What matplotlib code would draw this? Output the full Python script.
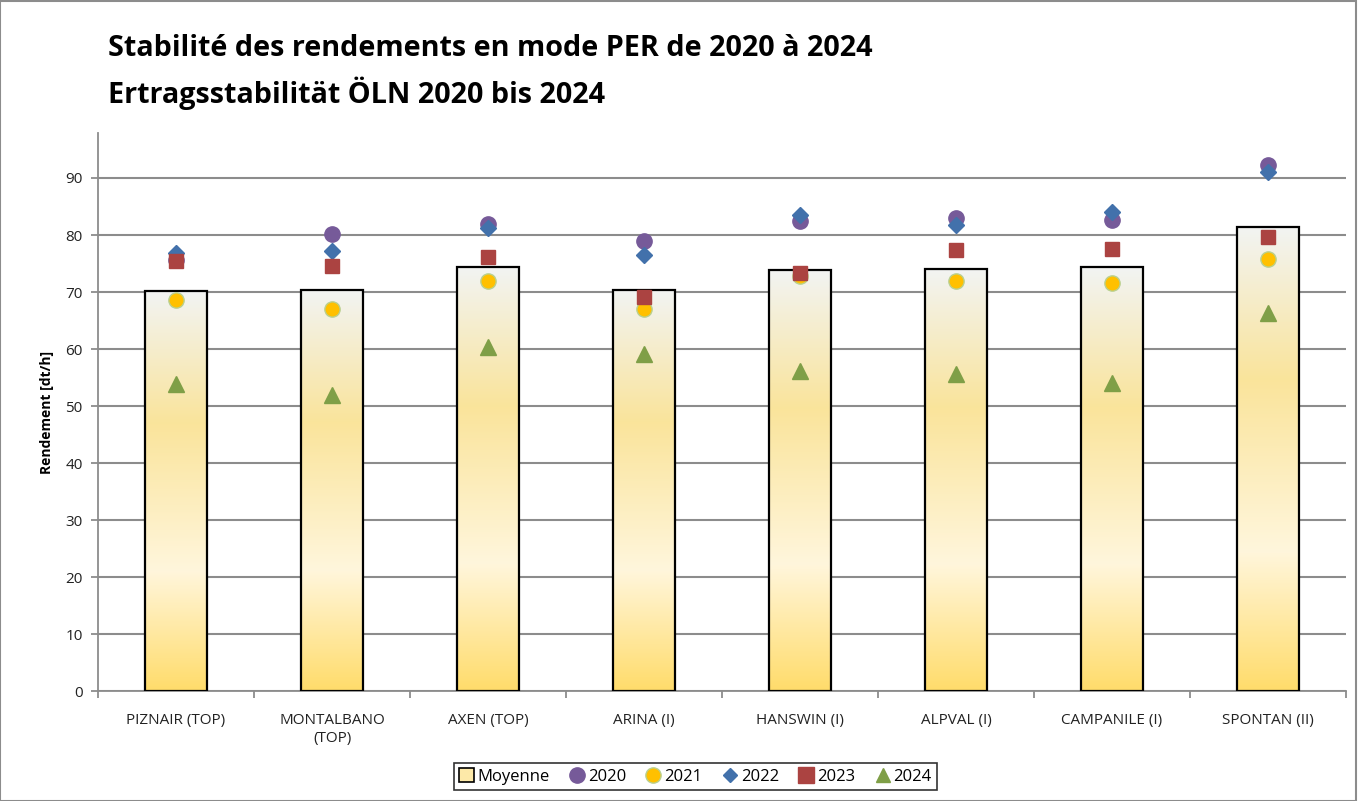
import numpy as np
import matplotlib
matplotlib.use("Agg")
import matplotlib.pyplot as plt
from matplotlib.colors import LinearSegmentedColormap
from matplotlib.patches import Rectangle, Patch
from matplotlib.lines import Line2D

# Donnees
varietes = ["PIZNAIR (TOP)", "MONTALBANO\n(TOP)", "AXEN (TOP)", "ARINA (I)",
            "HANSWIN (I)", "ALPVAL (I)", "CAMPANILE (I)", "SPONTAN (II)"]
moyenne = [70.1, 70.4, 74.4, 70.4, 73.9, 74.1, 74.3, 81.4]
r2020 = [75.6, 80.1, 81.9, 79.0, 82.4, 82.9, 82.7, 92.2]
r2021 = [68.6, 67.1, 71.9, 67.1, 72.8, 71.9, 71.6, 75.8]
r2022 = [76.9, 77.2, 81.2, 76.5, 83.5, 81.8, 84.1, 91.1]
r2023 = [75.5, 74.6, 76.2, 69.1, 73.4, 77.4, 77.5, 79.7]
r2024 = [53.8, 51.9, 60.3, 59.2, 56.1, 55.7, 54.1, 66.4]

plt.rcParams["font.family"] = ["Open Sans", "DejaVu Sans"]

fig = plt.figure(figsize=(13.58, 8.01), dpi=100)
ax = fig.add_axes([0.0722, 0.1373, 0.9190, 0.6967])

x = np.arange(len(varietes))
largeur = 0.4

# degrade type Excel dans chaque barre
cmap = LinearSegmentedColormap.from_list(
    "jaune", [(0.0, "#f2f4f3"), (0.33, "#fae49b"), (0.7, "#fff6dc"), (1.0, "#ffdc6b")])
grad = np.linspace(0, 1, 256).reshape(-1, 1)
for xi, h in zip(x, moyenne):
    ax.imshow(grad, cmap=cmap, aspect="auto", origin="upper",
              extent=[xi - largeur / 2, xi + largeur / 2, 0, h], zorder=2)
    ax.add_patch(Rectangle((xi - largeur / 2, 0), largeur, h, fill=False,
                           edgecolor="black", lw=1.6, zorder=3))

ms = 11
ax.plot(x, r2020, "o", color="#765a99", ms=ms, zorder=4, ls="none")
ax.plot(x, r2021, "o", color="#ffc000", mec="#b9d08f", mew=1.0, ms=ms, zorder=4, ls="none")
ax.plot(x, r2022, "D", color="#4271ab", ms=8, zorder=5, ls="none")
ax.plot(x, r2023, "s", color="#ab4341", ms=10.5, zorder=6, ls="none")
ax.plot(x, r2024, "^", color="#7f9f47", ms=11, zorder=6, ls="none")

ax.set_xlim(-0.5, len(varietes) - 0.5)
ax.set_ylim(0, 97.9)
ax.set_yticks(np.arange(0, 91, 10))
ax.set_xticks(x)
ax.set_xticklabels(varietes, fontsize=11, color="#222222", linespacing=1.25)
ax.set_xticks(np.arange(-0.5, len(varietes), 1), minor=True)
ax.tick_params(axis="x", which="major", length=0, pad=16)
ax.tick_params(axis="x", which="minor", length=5, color="#8c8c8c", width=1.3)
ax.tick_params(axis="y", length=5, color="#8c8c8c", width=1.3, labelsize=11,
               labelcolor="#222222", pad=6)
ax.yaxis.grid(True, color="#8c8c8c", lw=1.5, zorder=0)
ax.set_axisbelow(True)
for s in ["top", "right"]:
    ax.spines[s].set_visible(False)
for s in ["left", "bottom"]:
    ax.spines[s].set_color("#8c8c8c")
    ax.spines[s].set_linewidth(1.3)
ax.set_ylabel("Rendement [dt/h]", fontsize=10, fontweight="bold", labelpad=8)

fig.text(0.0795, 0.939, "Stabilité des rendements en mode PER de 2020 à 2024",
         fontsize=20.7, fontweight="bold", va="center")
fig.text(0.0795, 0.884, "Ertragsstabilität ÖLN 2020 bis 2024",
         fontsize=20.7, fontweight="bold", va="center")

handles = [
    Patch(facecolor="#fde9a8", edgecolor="black", lw=1.2, label="Moyenne"),
    Line2D([], [], marker="o", color="#765a99", ls="none", ms=11, label="2020"),
    Line2D([], [], marker="o", color="#ffc000", mec="#b9d08f", ls="none", ms=11, label="2021"),
    Line2D([], [], marker="D", color="#4271ab", ls="none", ms=7.5, label="2022"),
    Line2D([], [], marker="s", color="#ab4341", ls="none", ms=11, label="2023"),
    Line2D([], [], marker="^", color="#7f9f47", ls="none", ms=10.5, label="2024"),
]
leg = fig.legend(handles=handles, loc="center", bbox_to_anchor=(0.512, 0.0305),
                 ncol=6, frameon=True, fontsize=12, handlelength=0.9,
                 handletextpad=0.2, columnspacing=1.2, borderpad=0.3,
                 fancybox=False, handleheight=0.9)
leg.get_frame().set_edgecolor("black")
leg.get_frame().set_linewidth(1.2)

fig.patches.append(Rectangle((0.0, 0.0), 0.9985, 0.999, transform=fig.transFigure,
                             fill=False, edgecolor="#8c8c8c", lw=1.5))

fig.savefig("out.png", dpi=100)
